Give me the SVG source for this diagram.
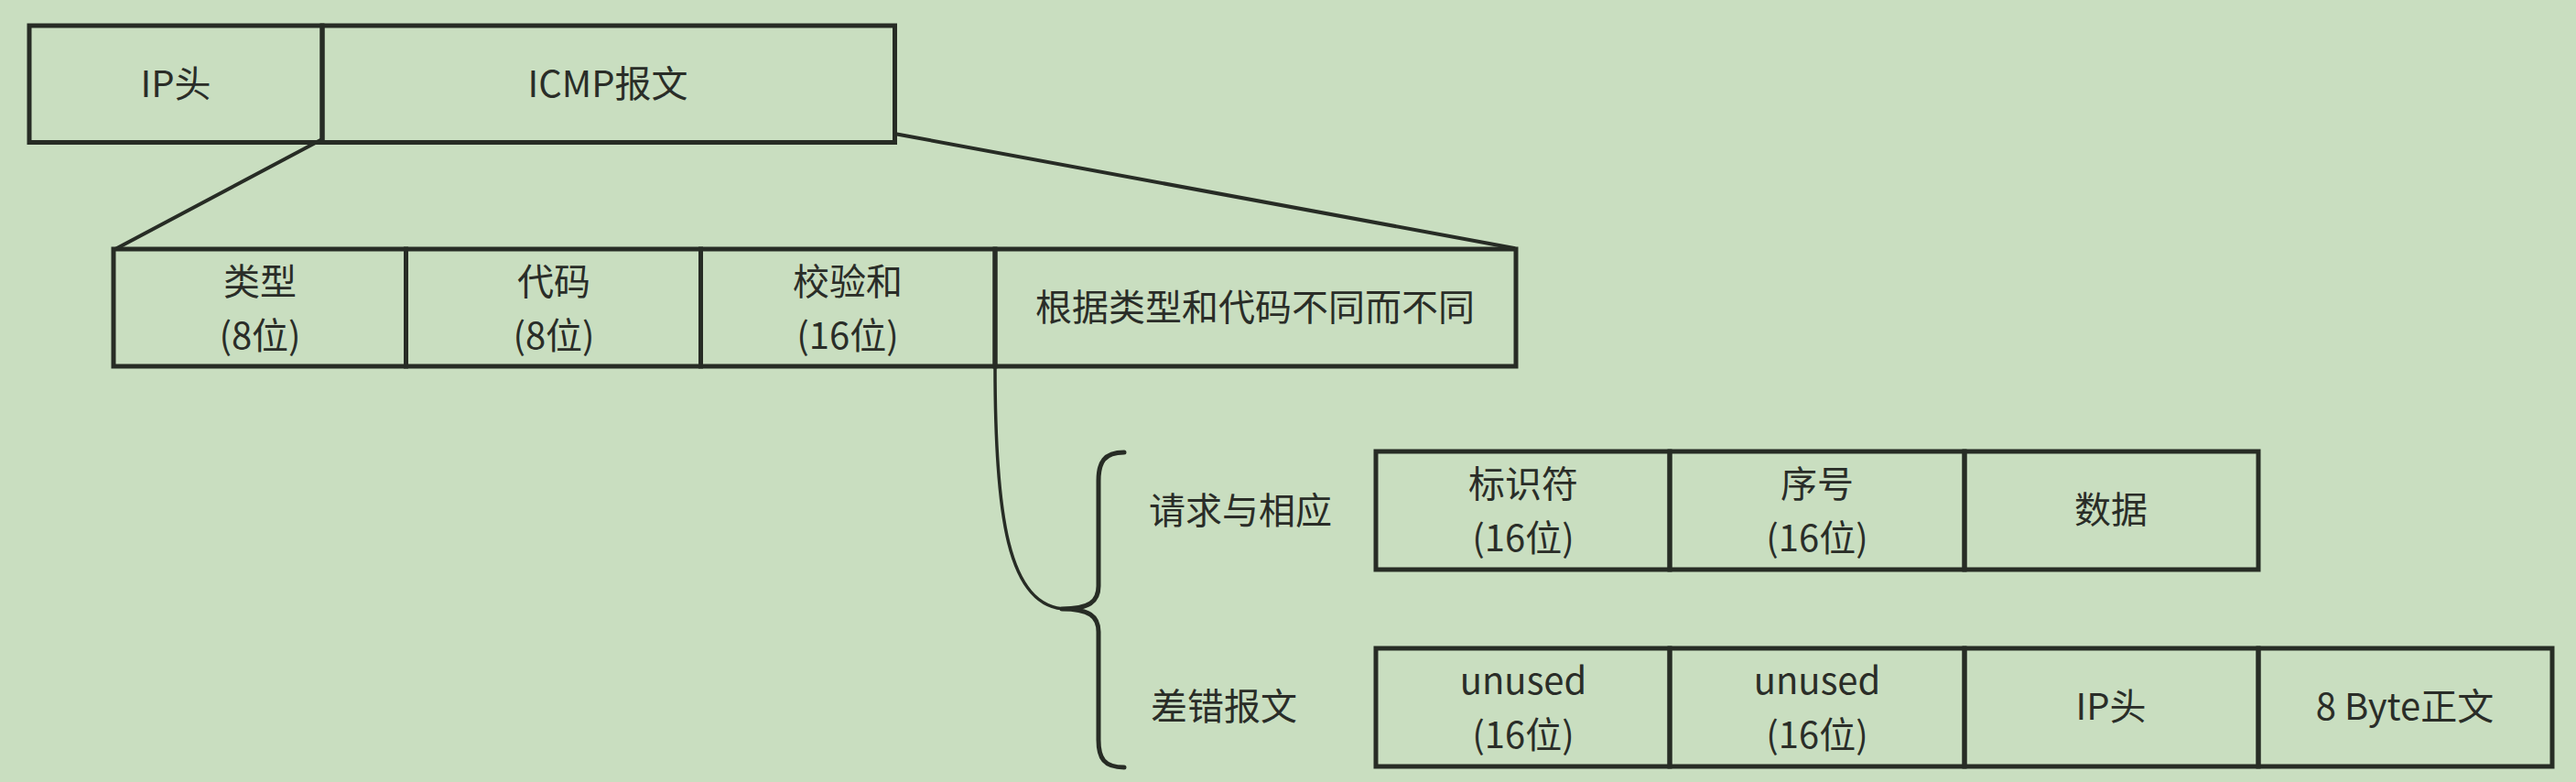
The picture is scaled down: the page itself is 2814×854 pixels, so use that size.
<svg xmlns="http://www.w3.org/2000/svg" width="2814" height="854" viewBox="0 0 2814 854">
<style>
.cell{fill:none;stroke:#272c25;stroke-width:5}
.t{font-family:"Noto Sans CJK SC","Noto Sans",sans-serif;font-size:40px;fill:#2a2d28;text-anchor:middle}
.l{font-family:"Noto Sans CJK SC","Noto Sans",sans-serif;font-size:40px;fill:#2a2d28;text-anchor:start}
.c{fill:none;stroke:#272c25;stroke-linecap:round;stroke-linejoin:round}
</style>
<rect width="2814" height="854" fill="#c9dec0"/>
<g id="connectors">
<path class="c" stroke-width="4" d="M352,152 L126,272"/>
<path class="c" stroke-width="4" d="M977,146 L1654,271"/>
<path class="c" stroke-width="3.5" d="M1087,400 C1087,560 1100,665 1166,665"/>
<path class="c" stroke-width="5" d="M1228,494 C1206,494 1200,505 1200,525 L1200,640 C1200,657 1190,665 1160,665 C1190,665 1200,673 1200,690 L1200,808 C1200,828 1206,838 1228,838"/>
</g>
<g id="ip-header"><rect class="cell" x="32" y="28" width="320" height="127.5"/><text class="t" x="192" y="106">IP头</text></g>
<g id="icmp-msg"><rect class="cell" x="352" y="28" width="625.5" height="127.5"/><text class="t" x="664" y="106">ICMP报文</text></g>
<g id="type"><rect class="cell" x="124" y="272" width="319.5" height="128"/><text class="t" y="322"><tspan x="284">类型</tspan><tspan x="284" dy="59">(8位)</tspan></text></g>
<g id="code"><rect class="cell" x="443.5" y="272" width="322" height="128"/><text class="t" y="322"><tspan x="605">代码</tspan><tspan x="605" dy="59">(8位)</tspan></text></g>
<g id="checksum"><rect class="cell" x="765.5" y="272" width="321.5" height="128"/><text class="t" y="322"><tspan x="926">校验和</tspan><tspan x="926" dy="59">(16位)</tspan></text></g>
<g id="varies"><rect class="cell" x="1087" y="272" width="569" height="128"/><text class="t" x="1371" y="350">根据类型和代码不同而不同</text></g>
<g id="label-echo"><text class="l" x="1255" y="572">请求与相应</text></g>
<g id="label-error"><text class="l" x="1257" y="786">差错报文</text></g>
<g id="identifier"><rect class="cell" x="1503" y="493" width="321" height="129"/><text class="t" y="543"><tspan x="1664">标识符</tspan><tspan x="1664" dy="59">(16位)</tspan></text></g>
<g id="sequence"><rect class="cell" x="1824" y="493" width="322" height="129"/><text class="t" y="543"><tspan x="1985">序号</tspan><tspan x="1985" dy="59">(16位)</tspan></text></g>
<g id="data"><rect class="cell" x="2146" y="493" width="321" height="129"/><text class="t" x="2306" y="571">数据</text></g>
<g id="unused1"><rect class="cell" x="1503" y="708" width="321" height="129"/><text class="t" y="758"><tspan x="1664">unused</tspan><tspan x="1664" dy="59">(16位)</tspan></text></g>
<g id="unused2"><rect class="cell" x="1824" y="708" width="322" height="129"/><text class="t" y="758"><tspan x="1985">unused</tspan><tspan x="1985" dy="59">(16位)</tspan></text></g>
<g id="ip-header-2"><rect class="cell" x="2146" y="708" width="321" height="129"/><text class="t" x="2306" y="786">IP头</text></g>
<g id="payload-8byte"><rect class="cell" x="2467" y="708" width="321" height="129"/><text class="t" x="2627" y="786">8 Byte正文</text></g>
</svg>
